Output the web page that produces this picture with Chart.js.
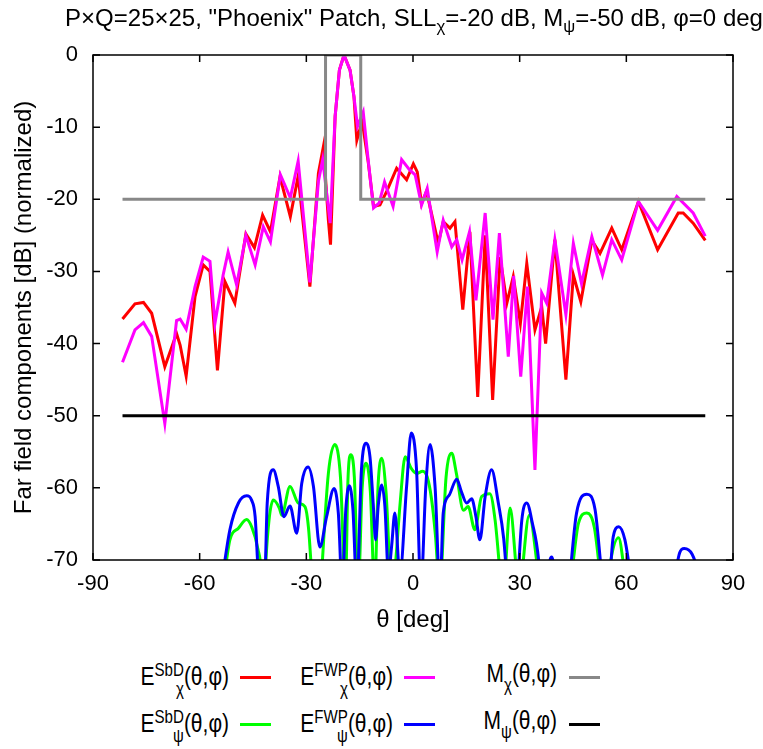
<!DOCTYPE html>
<html>
<head>
<meta charset="utf-8">
<script src="https://cdn.jsdelivr.net/npm/chart.js@4.4.1/dist/chart.umd.min.js"></script>
<style>
  body { margin: 0; background: #fff; }
  #wrap { position: relative; width: 763px; height: 749px; overflow: hidden;
          font-family: 'Liberation Sans', Arial, sans-serif; color: #000; }
  #plot { position: absolute; left: 0; top: 0; }
  #title { position: absolute; left: 414px; top: 6px; transform: translateX(-50%);
           font-size: 24px; white-space: nowrap; line-height: 1; }
  #title sub { font-size: 0.7em; vertical-align: -0.35em; line-height: 0; }
  .lg { position: absolute; font-size: 21px; white-space: nowrap; line-height: 1; text-align: right;
        transform: scaleY(1.25); transform-origin: 0 21px; }
  .ss { display: inline-flex; flex-direction: column; font-size: 0.72em; line-height: 1.0;
        vertical-align: 0.5em; }
  .sb { display: inline-block; font-size: 0.72em; vertical-align: -0.45em; }
  .sw { position: absolute; height: 3px; width: 31px; }
</style>
</head>
<body>
<div id="wrap">
  <canvas id="plot" width="763" height="640"></canvas>
  <div id="title">P×Q=25×25, "Phoenix" Patch, SLL<sub>χ</sub>=-20 dB, M<sub>ψ</sub>=-50 dB, φ=0 deg</div>
  <div id="legend"></div>
</div>
<script>
// theta grid / levels in deg and dB
const thetaTicks = [-90, -60, -30, 0, 30, 60, 90];
const dbTicks = [-70, -60, -50, -40, -30, -20, -10, 0];

// co-polar (chi) components
const thetaSbdChi = [-81.7, -78.2, -75.8, -73.5, -69.8, -66.5, -65.5, -63.8, -61.3, -59.0, -57.1, -55.0, -52.9,
  -50.1, -47.0, -44.6, -42.3, -40.1, -37.4, -34.5, -32.3, -29.0, -26.6, -25.2, -23.8, -23.2, -21.9, -20.7, -19.4,
  -17.7, -16.6, -15.8, -14.3, -12.6, -11.1, -9.3, -7.4, -4.6, -1.8, 0.1, 1.2, 2.4, 3.8, 7.1, 8.5, 10.4, 11.8, 14.0,
  16.0, 18.2, 20.3, 22.4, 24.5, 26.4, 28.2, 30.2, 32.0, 34.3, 36.2, 37.3, 39.9, 43.0, 45.1, 47.2, 50.3, 52.6, 55.9,
  58.7, 63.4, 68.8, 74.6, 76.0, 78.8, 82.2];
const sbdChi = [-36.6, -34.5, -34.3, -35.8, -43.2, -38.6, -40.2, -44.5, -33.5, -29.1, -30.0, -43.7, -31.4,
  -34.4, -24.8, -26.7, -22.2, -24.5, -16.9, -22.4, -16.8, -32.1, -16.4, -12.7, -22.9, -26.3, -8.5, -2.1, 0.0,
  -2.1, -5.8, -11.8, -9.2, -14.8, -21.0, -20.8, -18.9, -15.7, -17.3, -15.1, -16.2, -20.6, -18.9, -26.1, -23.1, -24.0, -23.1, -35.3,
  -24.5, -47.4, -25.0, -47.8, -28.0, -34.4, -30.7, -37.2, -28.9, -38.1, -34.9, -40.0, -25.6, -45.0, -30.5, -34.2, -25.7, -27.5, -24.0,
  -27.0, -20.3, -27.0, -21.9, -21.9, -23.3, -25.7];

const thetaFwpChi = [-81.7, -78.2, -75.8, -73.5, -69.8, -66.5, -65.5, -63.8, -61.3, -59.0, -57.1, -55.7, -53.4,
  -52.0, -49.6, -47.0, -44.4, -42.1, -40.1, -37.3, -34.5, -32.3, -29.0, -26.6, -25.4, -23.3, -21.9, -20.7, -19.4,
  -17.7, -16.6, -15.6, -14.0, -12.6, -11.1, -9.5, -8.0, -5.6, -3.2, -1.0, 0.6, 2.4, 4.0, 6.8, 8.5, 10.9, 12.3, 13.8,
  15.9, 17.7, 20.3, 22.5, 24.3, 26.8, 28.3, 30.3, 32.2, 34.3, 36.2, 37.6, 39.9, 43.0, 45.1, 47.4, 50.3, 53.3, 55.9,
  58.7, 63.4, 68.8, 74.2, 78.8, 82.2];
const fwpChi = [-42.6, -38.1, -37.1, -39.0, -51.1, -36.8, -36.6, -38.0, -32.1, -28.0, -28.6, -37.2, -30.5,
  -27.3, -31.9, -25.0, -29.1, -23.8, -25.9, -16.6, -19.8, -14.7, -31.5, -17.5, -14.5, -23.3, -8.5, -2.1, 0.0,
  -2.1, -5.8, -9.9, -7.9, -14.6, -21.2, -20.5, -17.6, -21.0, -14.5, -15.9, -16.6, -20.8, -18.5, -27.3, -22.9, -26.6, -25.6, -28.4,
  -24.5, -34.0, -21.9, -36.7, -24.7, -41.8, -30.6, -44.6, -32.1, -57.5, -33.0, -34.4, -25.6, -36.0, -26.1, -31.7, -25.2, -30.5, -25.6,
  -28.4, -20.3, -24.3, -19.6, -21.9, -25.1];

// cross-polar (psi) components; values below -70 dB run off the bottom of the axis
const thetaSbdPsi = [-53.0, -51.5, -49.1, -46.8, -45.3, -43.6, -42.6, -42.1, -41.6, -40.5, -39.3, -37.6, -36.9,
  -34.6, -32.3, -30.4, -29.4, -28.5, -27.1, -25.7, -23.8, -22.0, -20.4, -19.0, -18.3, -17.5, -16.5, -15.4, -14.3,
  -13.2, -12.0, -10.8, -9.8, -8.8, -7.6, -6.0, -5.2, -3.6, -2.2, -0.5, 1.0, 2.7, 4.0, 5.2, 6.3, 7.5, 9.3, 10.9,
  12.2, 14.2, 15.5, 17.4, 19.3, 21.6, 23.1, 24.5, 25.2, 25.9, 27.3, 29.2, 29.8, 32.7, 35.3, 40.0, 44.6, 46.5,
  48.9, 51.0, 52.6, 53.8, 55.0, 57.8, 59.6, 64.0];
const sbdPsi = [-72, -67.2, -65.6, -64.4, -65.5, -68.5, -72, -78, -72, -64.5, -61.7, -62.8, -63.8,
  -59.8, -62.1, -62.6, -65.5, -72, -85, -72, -58.0, -54.0, -58.5, -74, -59.0, -55.4, -58.5, -74, -60.0,
  -56.6, -60.5, -74, -59.5, -55.9, -60.5, -74, -72, -62.0, -55.7, -57.3, -58.0, -57.7, -58.5, -61.5, -66.5, -74, -58.5, -55.2,
  -58.0, -63.1, -62.6, -65.8, -61.2, -60.8, -64.5, -72, -76, -72, -62.8, -72, -74, -63.8, -72, -85, -72, -65.0,
  -63.5, -65.5, -72, -78, -72, -66.9, -72, -85];

const thetaFwpPsi = [-53.5, -51.5, -49.1, -46.8, -45.4, -44.4, -43.5, -42.6, -41.6, -41.0, -39.3, -37.9, -36.3,
  -34.6, -32.7, -31.3, -29.5, -28.0, -26.2, -24.3, -22.2, -21.0, -19.9, -18.9, -17.9, -16.9, -15.8, -14.5, -13.2,
  -12.1, -11.2, -10.5, -9.8, -8.8, -7.9, -6.9, -6.0, -5.1, -3.7, -1.8, -0.5, 1.0, 2.2, 3.6, 4.8, 6.2, 7.6, 8.5,
  10.2, 12.3, 13.6, 15.1, 16.5, 17.7, 18.8, 20.3, 22.1, 24.0, 25.5, 26.3, 28.0, 29.6, 30.6, 32.0, 33.4, 35.7,
  37.0, 38.1, 39.0, 39.9, 42.0, 44.2, 46.0, 48.9, 51.2, 53.1, 54.2, 55.4, 56.3, 57.9, 59.6, 61.2, 67.0, 73.7,
  75.0, 76.3, 78.5, 80.3, 82.2];
const fwpPsi = [-72, -65.8, -62.1, -61.1, -61.7, -64.0, -72, -76, -72, -62.1, -57.5, -59.8, -64.0,
  -62.5, -66.3, -59.4, -57.1, -59.8, -68.2, -64.0, -60.1, -63.5, -74, -63.0, -59.7, -63.0, -74, -57.5, -53.8,
  -55.7, -62.1, -67.2, -62.6, -59.6, -62.6, -72, -68.0, -63.5, -72, -59.8, -52.4, -57.5, -74, -59.8, -54.0, -59.8, -74, -63.5,
  -61.0, -58.8, -60.5, -62.1, -61.5, -64.0, -67.2, -61.2, -57.5, -62.1, -67.0, -72, -85, -72, -64.5, -62.1, -64.5, -72,
  -85, -72, -69.6, -72, -85, -72, -63.5, -60.9, -63.0, -72, -76, -72, -66.8, -65.4, -67.2, -72, -85, -72,
  -69.0, -68.4, -69.2, -72, -78];

// masks
const thetaMaskChi = [-81.7, -24.6, -24.6, -14.7, -14.7, 82.2];
const maskChi = [-20, -20, 0, 0, -20, -20];
const thetaMaskPsi = [-81.7, 82.2];
const maskPsi = [-50, -50];

const TICK_FONT = { family: "'Liberation Sans', Arial, sans-serif", size: 22 };
const LABEL_FONT = { family: "'Liberation Sans', Arial, sans-serif", size: 24 };

function series(xs, ys, color, order, smooth) {
  return {
    data: xs.map((x, i) => ({ x, y: ys[i] })),
    borderColor: color,
    backgroundColor: color,
    borderWidth: 3,
    pointRadius: 0,
    cubicInterpolationMode: smooth ? 'monotone' : 'default',
    tension: 0,
    fill: false,
    order
  };
}

// gnuplot-like frame with inward ticks on all four sides
const framePlugin = {
  id: 'frame',
  afterDatasetsDraw(chart) {
    const { ctx, chartArea: a, scales } = chart;
    const len = 7;
    ctx.save();
    ctx.strokeStyle = '#000';
    ctx.lineWidth = 1.5;
    ctx.strokeRect(a.left, a.top, a.right - a.left, a.bottom - a.top);
    ctx.beginPath();
    thetaTicks.forEach((v) => {
      const px = scales.x.getPixelForValue(v);
      ctx.moveTo(px, a.bottom); ctx.lineTo(px, a.bottom - len);
      ctx.moveTo(px, a.top); ctx.lineTo(px, a.top + len);
    });
    dbTicks.forEach((v) => {
      const py = scales.y.getPixelForValue(v);
      ctx.moveTo(a.left, py); ctx.lineTo(a.left + len, py);
      ctx.moveTo(a.right, py); ctx.lineTo(a.right - len, py);
    });
    ctx.stroke();
    ctx.restore();
  }
};

new Chart(document.getElementById('plot').getContext('2d'), {
  type: 'line',
  data: {
    datasets: [
      series(thetaSbdChi, sbdChi, '#ff0000', 6, false),
      series(thetaFwpChi, fwpChi, '#ff00ff', 5, false),
      series(thetaSbdPsi, sbdPsi, '#00ff00', 4, true),
      series(thetaFwpPsi, fwpPsi, '#0000ff', 3, true),
      series(thetaMaskChi, maskChi, '#888888', 2, false),
      series(thetaMaskPsi, maskPsi, '#000000', 1, false)
    ]
  },
  options: {
    responsive: false,
    animation: false,
    layout: { padding: { top: 55, right: 30, left: 0, bottom: 0 } },
    plugins: { legend: { display: false }, tooltip: { enabled: false } },
    scales: {
      x: {
        type: 'linear',
        min: -90,
        max: 90,
        afterBuildTicks: (s) => { s.ticks = thetaTicks.map((value) => ({ value })); },
        afterFit: (s) => { s.height = 80; },
        ticks: { font: TICK_FONT, color: '#000', padding: 11, maxRotation: 0, autoSkip: false },
        grid: { display: false, drawTicks: false },
        border: { display: false },
        title: { display: true, text: 'θ [deg]', font: LABEL_FONT, color: '#000', padding: { top: 0, bottom: 5 } }
      },
      y: {
        min: -70,
        max: 0,
        afterBuildTicks: (s) => { s.ticks = dbTicks.map((value) => ({ value })); },
        afterFit: (s) => { s.width = 93; },
        ticks: { font: TICK_FONT, color: '#000', padding: 15, autoSkip: false },
        grid: { display: false, drawTicks: false },
        border: { display: false },
        title: { display: true, text: 'Far field components [dB] (normalized)', font: LABEL_FONT, color: '#000',
                 padding: { top: 10, bottom: 0 } }
      }
    }
  },
  plugins: [framePlugin]
});

// legend: 2 rows x 3 columns, text right-aligned against its colour swatch
const legendRows = [686, 733];
const legendCols = [{ textRight: 229, line: 240 }, { textRight: 393, line: 404 }, { textRight: 557, line: 569 }];
const legendItems = [
  { row: 0, col: 0, html: 'E<span class="ss"><span>SbD</span><span>χ</span></span>(θ,φ)', color: '#ff0000' },
  { row: 0, col: 1, html: 'E<span class="ss"><span>FWP</span><span>χ</span></span>(θ,φ)', color: '#ff00ff' },
  { row: 0, col: 2, html: 'M<span class="sb">χ</span>(θ,φ)', color: '#888888' },
  { row: 1, col: 0, html: 'E<span class="ss"><span>SbD</span><span>ψ</span></span>(θ,φ)', color: '#00ff00' },
  { row: 1, col: 1, html: 'E<span class="ss"><span>FWP</span><span>ψ</span></span>(θ,φ)', color: '#0000ff' },
  { row: 1, col: 2, html: 'M<span class="sb">ψ</span>(θ,φ)', color: '#000000' }
];
const legendBox = document.getElementById('legend');
legendItems.forEach((it) => {
  const c = legendCols[it.col];
  const base = legendRows[it.row];
  const t = document.createElement('div');
  t.className = 'lg';
  t.innerHTML = it.html;
  t.style.right = (763 - c.textRight) + 'px';
  t.style.top = (base - 21) + 'px';
  legendBox.appendChild(t);
  const sw = document.createElement('div');
  sw.className = 'sw';
  sw.style.left = c.line + 'px';
  sw.style.top = (base - 10) + 'px';
  sw.style.background = it.color;
  legendBox.appendChild(sw);
});
</script>
</body>
</html>
